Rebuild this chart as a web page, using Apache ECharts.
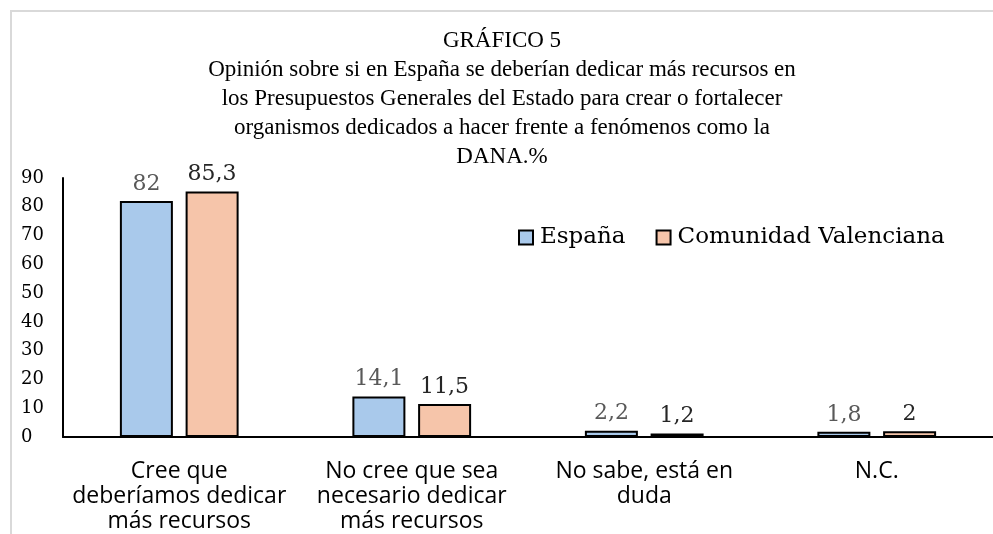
<!DOCTYPE html>
<html>
<head>
<meta charset="utf-8">
<script src="https://cdn.jsdelivr.net/npm/echarts@6/dist/echarts.min.js"></script>
<style>
  html, body { margin: 0; padding: 0; background: #fff; }
  #main { width: 993px; height: 534px; }
</style>
</head>
<body>
<div id="main"></div>
<script>
// datos del gráfico
var categorias = [
    'Cree que\ndeberíamos dedicar\nmás recursos',
    'No cree que sea\nnecesario dedicar\nmás recursos',
    'No sabe, está en\nduda',
    'N.C.'
];
var valEspana = [82, 14.1, 2.2, 1.8];
var valValencia = [85.3, 11.5, 1.2, 2];
var nombres = ['España', 'Comunidad Valenciana'];

var titulo = 'GRÁFICO 5\nOpinión sobre si en España se deberían dedicar más recursos en\nlos Presupuestos Generales del Estado para crear o fortalecer\norganismos dedicados a hacer frente a fenómenos como la\nDANA.%';

var myChart = echarts.init(document.getElementById('main'));

function etiqueta(p) {
    return String(p.value).replace('.', ',');
}

option = {
    animation: false,
    title: {
        text: titulo,
        left: 497,
        textAlign: 'center',
        top: 21,
        textStyle: {
            fontFamily: 'Liberation Serif',
            fontSize: 23,
            fontWeight: 'normal',
            color: '#000',
            lineHeight: 29
        }
    },
    graphic: [
        {
            type: 'polyline',
            shape: { points: [[11, 534], [11, 11], [993, 11]] },
            style: { stroke: '#d9d9d9', lineWidth: 2, fill: null }
        }
    ],
    legend: {
        data: nombres,
        left: 513,
        top: 221,
        icon: 'rect',
        itemWidth: 14,
        itemHeight: 14,
        itemGap: 30,
        textStyle: {
            fontFamily: 'DejaVu Serif',
            fontSize: 23,
            color: '#000',
            padding: [0, 0, 0, 2]
        }
    },
    grid: {
        left: 63,
        right: 0,
        top: 178,
        bottom: 97
    },
    xAxis: {
        type: 'category',
        data: categorias,
        axisLine: { lineStyle: { color: '#000', width: 2 } },
        axisTick: { show: false },
        axisLabel: {
            interval: 0,
            margin: 22,
            fontFamily: 'Open Sans',
            fontSize: 23,
            lineHeight: 25,
            color: '#000'
        }
    },
    yAxis: {
        type: 'value',
        min: 0,
        max: 90,
        interval: 10,
        axisLine: { show: true, lineStyle: { color: '#000', width: 2 } },
        axisTick: { show: false },
        splitLine: { show: false },
        axisLabel: {
            margin: 20,
            align: 'left',
            padding: [0, 0, 0, -22],
            fontFamily: 'DejaVu Serif',
            fontSize: 18,
            color: '#000'
        }
    },
    series: [
        {
            name: nombres[0],
            type: 'bar',
            data: valEspana,
            barWidth: 53,
            barGap: '24%',
            itemStyle: { color: '#a9c9eb', borderColor: '#000', borderWidth: 2 },
            label: {
                show: true,
                position: 'top',
                distance: 6,
                formatter: etiqueta,
                fontFamily: 'DejaVu Serif',
                fontSize: 22,
                color: '#595959'
            }
        },
        {
            name: nombres[1],
            type: 'bar',
            data: valValencia,
            barWidth: 53,
            itemStyle: { color: '#f6c5aa', borderColor: '#000', borderWidth: 2 },
            label: {
                show: true,
                position: 'top',
                distance: 6,
                formatter: etiqueta,
                fontFamily: 'DejaVu Serif',
                fontSize: 22,
                color: '#262626'
            }
        }
    ]
};
myChart.setOption(option);
</script>
</body>
</html>
